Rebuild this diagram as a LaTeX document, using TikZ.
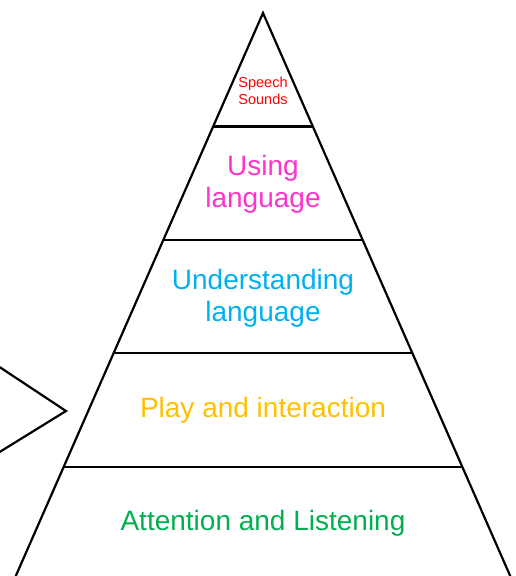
\documentclass[tikz,border=0pt]{standalone}
\usepackage{fontspec}
\setmainfont{Liberation Sans}
\usetikzlibrary{calc}
\definecolor{levelred}{HTML}{FF0000}
\definecolor{levelpink}{HTML}{FF33CC}
\definecolor{levelblue}{HTML}{00B0F0}
\definecolor{levelamber}{HTML}{FFC000}
\definecolor{levelgreen}{HTML}{00B050}
\tikzset{
  edge/.style={line width=2.2pt,black},
  bigtext/.style={align=center,font=\fontsize{28}{32}\selectfont},
  smalltext/.style={align=center,font=\fontsize{14.5}{17}\selectfont}
}
\begin{document}
\begin{tikzpicture}[x=1pt,y=-1pt]
  \useasboundingbox (0,0) rectangle (515,576);
  \coordinate (top) at (263,13);
  \coordinate (bl) at (14,580);
  \coordinate (br) at (512,580);
  \draw[edge] (bl) -- (top) -- (br);
  \foreach \f in {0.2,0.4,0.6,0.8}
    \draw[edge] ($(top)!\f!(bl)$) -- ($(top)!\f!(br)$);
  \draw[edge] (-2,366) -- (66,411) -- (-2,453);

  \node[smalltext,text=levelred] (speech) at (263,91) {Speech\\Sounds};
  \node[bigtext,text=levelpink] (using) at (263,184) {Using\\language};
  \node[bigtext,text=levelblue] (understanding) at (263,298) {Understanding\\language};
  \node[bigtext,text=levelamber] (play) at (263,410) {Play and interaction};
  \node[bigtext,text=levelgreen] (attention) at (263,523) {Attention and Listening};
\end{tikzpicture}
\end{document}
